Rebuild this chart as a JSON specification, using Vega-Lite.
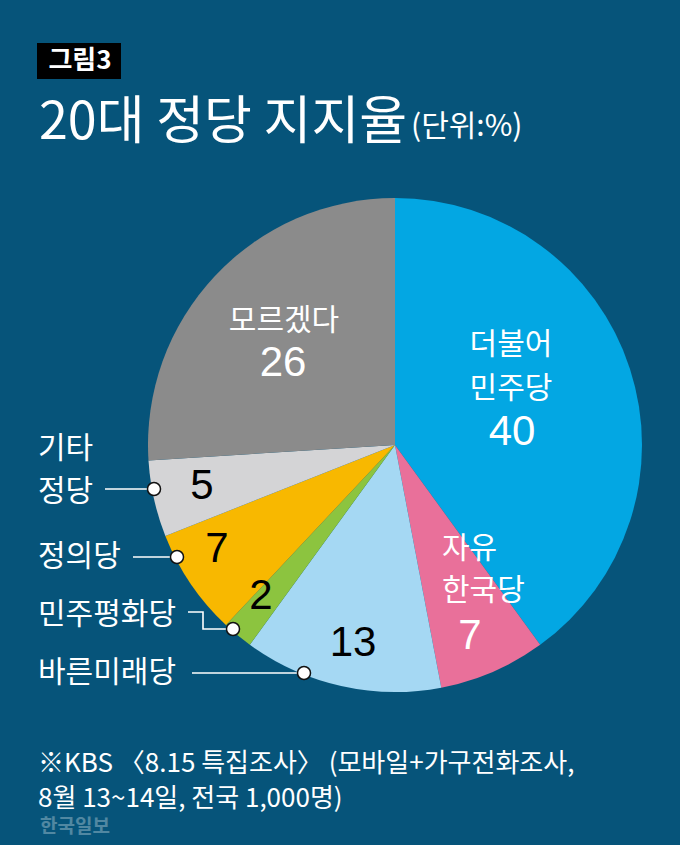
{
  "$schema": "https://vega.github.io/schema/vega-lite/v6.json",
  "width": 494,
  "height": 494,
  "autosize": {"type": "none"},
  "padding": {"left": 148, "top": 198, "right": 38, "bottom": 153},
  "background": "#06547a",
  "config": {"view": {"stroke": null}, "text": {"font": "Noto Sans CJK KR"}},
  "datasets": {
    "parties": [
      {"party": "더불어민주당", "value": 40, "rank": 1},
      {"party": "자유한국당", "value": 7, "rank": 2},
      {"party": "바른미래당", "value": 13, "rank": 3},
      {"party": "민주평화당", "value": 2, "rank": 4},
      {"party": "정의당", "value": 7, "rank": 5},
      {"party": "기타정당", "value": 5, "rank": 6},
      {"party": "모르겠다", "value": 26, "rank": 7}
    ],
    "box": [{"x": -358, "x2": -274, "y": -402, "y2": -366}],
    "labels": [
      {"kind": "tag", "text": "그림3", "x": -315, "y": -384},
      {"kind": "title", "text": "20대 정당 지지율", "x": -356, "y": -322},
      {"kind": "unit", "text": "(단위:%)", "x": 16, "y": -318},
      {"kind": "pname", "text": "모르겠다", "x": -111, "y": -124},
      {"kind": "numW", "text": "26", "x": -112, "y": -82},
      {"kind": "pname", "text": "더불어", "x": 116, "y": -100},
      {"kind": "pname", "text": "민주당", "x": 116, "y": -56},
      {"kind": "numW", "text": "40", "x": 117, "y": -13},
      {"kind": "pnameL", "text": "자유", "x": 47, "y": 104},
      {"kind": "pnameL", "text": "한국당", "x": 47, "y": 146},
      {"kind": "numW", "text": "7", "x": 75, "y": 191},
      {"kind": "numB", "text": "5", "x": -193, "y": 41},
      {"kind": "numB", "text": "7", "x": -178, "y": 104},
      {"kind": "numB", "text": "2", "x": -134, "y": 151},
      {"kind": "numB", "text": "13", "x": -42, "y": 198},
      {"kind": "side", "text": "기타", "x": -357, "y": 4},
      {"kind": "side", "text": "정당", "x": -357, "y": 47},
      {"kind": "side", "text": "정의당", "x": -357, "y": 112},
      {"kind": "side", "text": "민주평화당", "x": -357, "y": 170},
      {"kind": "side", "text": "바른미래당", "x": -357, "y": 228},
      {"kind": "foot", "text": "※KBS 〈8.15 특집조사〉 (모바일+가구전화조사,", "x": -357, "y": 319},
      {"kind": "foot", "text": "8월 13~14일, 전국 1,000명)", "x": -357, "y": 354},
      {"kind": "wm", "text": "한국일보", "x": -355, "y": 382}
    ],
    "leaders": [
      {"g": "기타정당", "s": 1, "x": -290, "y": 44},
      {"g": "기타정당", "s": 2, "x": -241, "y": 44},
      {"g": "정의당", "s": 1, "x": -262, "y": 112},
      {"g": "정의당", "s": 2, "x": -218, "y": 112},
      {"g": "민주평화당", "s": 1, "x": -207, "y": 167},
      {"g": "민주평화당", "s": 2, "x": -192, "y": 167},
      {"g": "민주평화당", "s": 3, "x": -192, "y": 184},
      {"g": "민주평화당", "s": 4, "x": -162, "y": 184},
      {"g": "바른미래당", "s": 1, "x": -203, "y": 228},
      {"g": "바른미래당", "s": 2, "x": -91, "y": 228}
    ],
    "dots": [
      {"g": "기타정당", "x": -241, "y": 44},
      {"g": "정의당", "x": -218, "y": 112},
      {"g": "민주평화당", "x": -162, "y": 184},
      {"g": "바른미래당", "x": -91, "y": 228}
    ]
  },
  "layer": [
    {
      "data": {"name": "parties"},
      "mark": {"type": "arc", "outerRadius": 247},
      "encoding": {
        "theta": {"field": "value", "type": "quantitative", "stack": true},
        "order": {"field": "rank", "type": "quantitative", "sort": "ascending"},
        "color": {
          "field": "party",
          "type": "nominal",
          "legend": null,
          "scale": {
            "domain": ["더불어민주당", "자유한국당", "바른미래당", "민주평화당", "정의당", "기타정당", "모르겠다"],
            "range": ["#03a7e3", "#e9709a", "#a5d8f3", "#8cc43f", "#f8b800", "#d4d4d6", "#8b8b8b"]
          }
        }
      }
    },
    {
      "data": {"name": "box"},
      "mark": {"type": "rect", "color": "#000000"},
      "encoding": {
        "x": {"field": "x", "type": "quantitative", "axis": null, "scale": {"domain": [-247, 247]}},
        "x2": {"field": "x2"},
        "y": {"field": "y", "type": "quantitative", "axis": null, "scale": {"domain": [-247, 247], "reverse": true}},
        "y2": {"field": "y2"}
      }
    },
    {
      "data": {"name": "leaders"},
      "mark": {"type": "line", "color": "#ffffff", "strokeWidth": 1.6},
      "encoding": {
        "x": {"field": "x", "type": "quantitative", "axis": null, "scale": {"domain": [-247, 247]}},
        "y": {"field": "y", "type": "quantitative", "axis": null, "scale": {"domain": [-247, 247], "reverse": true}},
        "detail": {"field": "g", "type": "nominal"},
        "order": {"field": "s", "type": "quantitative"}
      }
    },
    {
      "data": {"name": "dots"},
      "mark": {"type": "point", "filled": true, "fill": "#ffffff", "stroke": "#111111", "strokeWidth": 1.5, "size": 170, "opacity": 1},
      "encoding": {
        "x": {"field": "x", "type": "quantitative", "axis": null, "scale": {"domain": [-247, 247]}},
        "y": {"field": "y", "type": "quantitative", "axis": null, "scale": {"domain": [-247, 247], "reverse": true}}
      }
    },
    {
      "data": {"name": "labels"},
      "transform": [{"filter": "datum.kind === 'tag'"}],
      "mark": {"type": "text", "color": "#ffffff", "fontSize": 26, "fontWeight": "bold", "align": "center", "baseline": "middle"},
      "encoding": {
        "x": {"field": "x", "type": "quantitative", "axis": null, "scale": {"domain": [-247, 247]}},
        "y": {"field": "y", "type": "quantitative", "axis": null, "scale": {"domain": [-247, 247], "reverse": true}},
        "text": {"field": "text"}
      }
    },
    {
      "data": {"name": "labels"},
      "transform": [{"filter": "datum.kind === 'title'"}],
      "mark": {"type": "text", "color": "#ffffff", "fontSize": 52, "align": "left", "baseline": "middle"},
      "encoding": {
        "x": {"field": "x", "type": "quantitative", "axis": null, "scale": {"domain": [-247, 247]}},
        "y": {"field": "y", "type": "quantitative", "axis": null, "scale": {"domain": [-247, 247], "reverse": true}},
        "text": {"field": "text"}
      }
    },
    {
      "data": {"name": "labels"},
      "transform": [{"filter": "datum.kind === 'unit'"}],
      "mark": {"type": "text", "color": "#ffffff", "fontSize": 30, "align": "left", "baseline": "middle"},
      "encoding": {
        "x": {"field": "x", "type": "quantitative", "axis": null, "scale": {"domain": [-247, 247]}},
        "y": {"field": "y", "type": "quantitative", "axis": null, "scale": {"domain": [-247, 247], "reverse": true}},
        "text": {"field": "text"}
      }
    },
    {
      "data": {"name": "labels"},
      "transform": [{"filter": "datum.kind === 'pname'"}],
      "mark": {"type": "text", "color": "#ffffff", "fontSize": 30, "align": "center", "baseline": "middle"},
      "encoding": {
        "x": {"field": "x", "type": "quantitative", "axis": null, "scale": {"domain": [-247, 247]}},
        "y": {"field": "y", "type": "quantitative", "axis": null, "scale": {"domain": [-247, 247], "reverse": true}},
        "text": {"field": "text"}
      }
    },
    {
      "data": {"name": "labels"},
      "transform": [{"filter": "datum.kind === 'pnameL'"}],
      "mark": {"type": "text", "color": "#ffffff", "fontSize": 30, "align": "left", "baseline": "middle"},
      "encoding": {
        "x": {"field": "x", "type": "quantitative", "axis": null, "scale": {"domain": [-247, 247]}},
        "y": {"field": "y", "type": "quantitative", "axis": null, "scale": {"domain": [-247, 247], "reverse": true}},
        "text": {"field": "text"}
      }
    },
    {
      "data": {"name": "labels"},
      "transform": [{"filter": "datum.kind === 'numW'"}],
      "mark": {"type": "text", "color": "#ffffff", "fontSize": 42, "font": "Liberation Sans", "align": "center", "baseline": "middle"},
      "encoding": {
        "x": {"field": "x", "type": "quantitative", "axis": null, "scale": {"domain": [-247, 247]}},
        "y": {"field": "y", "type": "quantitative", "axis": null, "scale": {"domain": [-247, 247], "reverse": true}},
        "text": {"field": "text"}
      }
    },
    {
      "data": {"name": "labels"},
      "transform": [{"filter": "datum.kind === 'numB'"}],
      "mark": {"type": "text", "color": "#000000", "fontSize": 42, "font": "Liberation Sans", "align": "center", "baseline": "middle"},
      "encoding": {
        "x": {"field": "x", "type": "quantitative", "axis": null, "scale": {"domain": [-247, 247]}},
        "y": {"field": "y", "type": "quantitative", "axis": null, "scale": {"domain": [-247, 247], "reverse": true}},
        "text": {"field": "text"}
      }
    },
    {
      "data": {"name": "labels"},
      "transform": [{"filter": "datum.kind === 'side'"}],
      "mark": {"type": "text", "color": "#ffffff", "fontSize": 30, "align": "left", "baseline": "middle"},
      "encoding": {
        "x": {"field": "x", "type": "quantitative", "axis": null, "scale": {"domain": [-247, 247]}},
        "y": {"field": "y", "type": "quantitative", "axis": null, "scale": {"domain": [-247, 247], "reverse": true}},
        "text": {"field": "text"}
      }
    },
    {
      "data": {"name": "labels"},
      "transform": [{"filter": "datum.kind === 'wm'"}],
      "mark": {"type": "text", "color": "#ffffff", "opacity": 0.3, "fontSize": 19, "fontWeight": "bold", "align": "left", "baseline": "middle"},
      "encoding": {
        "x": {"field": "x", "type": "quantitative", "axis": null, "scale": {"domain": [-247, 247]}},
        "y": {"field": "y", "type": "quantitative", "axis": null, "scale": {"domain": [-247, 247], "reverse": true}},
        "text": {"field": "text"}
      }
    },
    {
      "data": {"name": "labels"},
      "transform": [{"filter": "datum.kind === 'foot'"}],
      "mark": {"type": "text", "color": "#ffffff", "fontSize": 26, "align": "left", "baseline": "middle"},
      "encoding": {
        "x": {"field": "x", "type": "quantitative", "axis": null, "scale": {"domain": [-247, 247]}},
        "y": {"field": "y", "type": "quantitative", "axis": null, "scale": {"domain": [-247, 247], "reverse": true}},
        "text": {"field": "text"}
      }
    }
  ]
}
